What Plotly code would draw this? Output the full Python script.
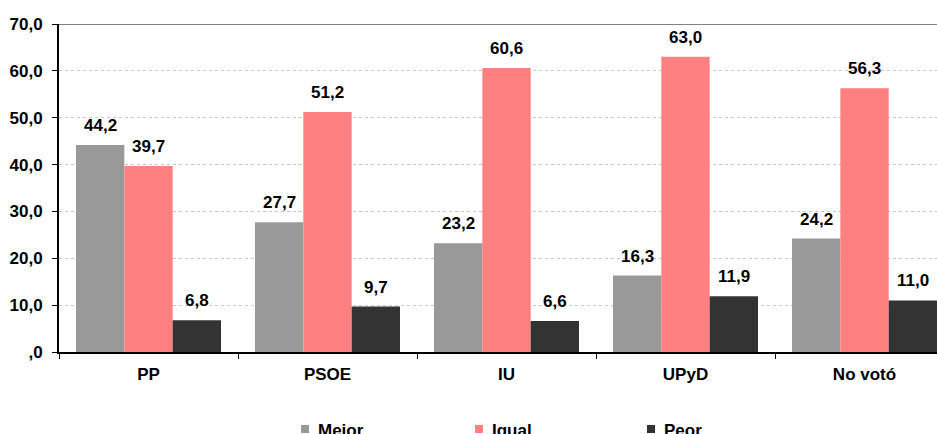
import plotly.graph_objects as go

categories = ["PP", "PSOE", "IU", "UPyD", "No votó"]
mejor = [44.2, 27.7, 23.2, 16.3, 24.2]
igual = [39.7, 51.2, 60.6, 63.0, 56.3]
peor = [6.8, 9.7, 6.6, 11.9, 11.0]
series_names = ["Mejor", "Igual", "Peor"]
colors = ["#999999", "#FF8080", "#333333"]
tick_vals = [0, 10, 20, 30, 40, 50, 60, 70]
tick_text = [",0", "10,0", "20,0", "30,0", "40,0", "50,0", "60,0", "70,0"]

W, H = 937, 434
ML, MT, MB = 59, 24, 82
PLOT_W = W - ML
PLOT_H = H - MT - MB
CAT_PX = 179.0              # width of one category in pixels (chart is cut on the right)
BARGAP = 0.19
FONT = "Liberation Sans"

def fmt(v):
    return f"{v:.1f}".replace(".", ",")

fig = go.Figure()
series = [mejor, igual, peor]
for name, vals, col in zip(series_names, series, colors):
    fig.add_trace(go.Bar(
        x=categories, y=vals, name=name,
        marker=dict(color=col, line=dict(width=0)),
        showlegend=False,
    ))

bar_px = CAT_PX * (1 - BARGAP) / 3
for i, vals in enumerate(series):
    for cat, v in zip(categories, vals):
        fig.add_annotation(x=cat, y=v, xref="x", yref="y",
                           text=f"<b>{fmt(v)}</b>", showarrow=False,
                           xshift=(i - 1) * bar_px, yanchor="bottom", yshift=8,
                           font=dict(family=FONT, size=17, color="black"))

# legend (manual, placed at the bottom edge like the reference)
def px_x(p):
    return (p - ML) / PLOT_W

def px_y(p):
    return (H - MB - p) / PLOT_H

legend_x = [301, 475, 647]
for name, col, lx in zip(series_names, colors, legend_x):
    fig.add_shape(type="rect", xref="paper", yref="paper",
                  x0=px_x(lx), x1=px_x(lx + 8), y0=px_y(433), y1=px_y(425),
                  fillcolor=col, line=dict(width=0))
    fig.add_annotation(xref="paper", yref="paper", x=px_x(lx + 15), y=px_y(430),
                       xanchor="left", yanchor="middle", showarrow=False,
                       text=f"<b>{name}</b>",
                       font=dict(family=FONT, size=17, color="black"))

fig.update_layout(
    width=W, height=H,
    margin=dict(l=ML, r=0, t=MT, b=MB, autoexpand=False),
    barmode="group", bargap=BARGAP, bargroupgap=0,
    plot_bgcolor="white", paper_bgcolor="white",
    font=dict(family=FONT, size=17, color="black"),
    showlegend=False,
)
fig.update_yaxes(range=[0, 70], tickvals=tick_vals,
                 ticktext=[f"<b>{t}</b>" for t in tick_text],
                 showgrid=True, gridcolor="#c8c8c8", griddash="dot", gridwidth=1,
                 showline=True, linecolor="black", linewidth=2,
                 ticks="outside", ticklen=5, tickcolor="black", tickwidth=1,
                 ticklabelstandoff=6,
                 tickfont=dict(family=FONT, size=17, color="black"),
                 zeroline=False, automargin=False, fixedrange=True)
fig.update_xaxes(range=[-0.5, -0.5 + PLOT_W / CAT_PX],
                 tickvals=categories, ticktext=[f"<b>{c}</b>" for c in categories],
                 showline=True, linecolor="black", linewidth=2,
                 ticks="outside", tickson="boundaries", ticklen=5, tickcolor="black", tickwidth=1,
                 ticklabelstandoff=6,
                 tickfont=dict(family=FONT, size=17, color="black"),
                 automargin=False, fixedrange=True)
fig.add_shape(type="line", xref="paper", yref="y", x0=0, x1=1, y0=70, y1=70,
              line=dict(color="#808080", width=2))

fig.write_html("out.html", config={"displayModeBar": False},
               post_script="document.body.style.margin='0';document.body.style.overflow='hidden';")
